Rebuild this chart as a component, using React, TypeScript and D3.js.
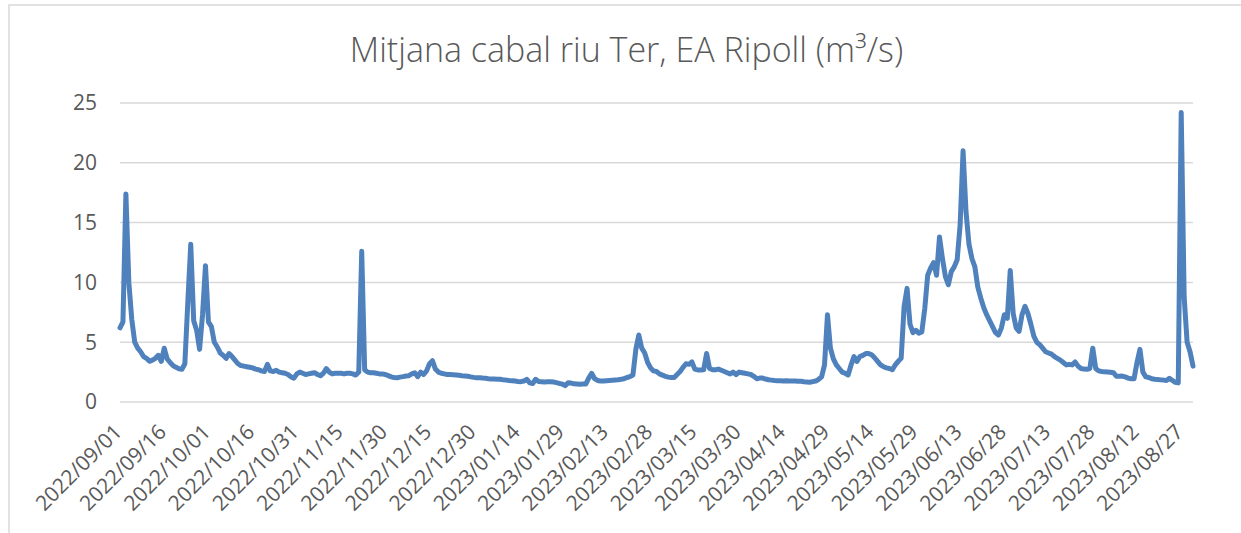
import React from "react";
import * as d3 from "d3";

// Daily mean flow (m³/s), one array per month, 2022/09/01 .. 2023/08/31
const sep2022 = [6.2, 6.7, 17.4, 10.0, 6.9, 5.0, 4.5, 4.2, 3.8, 3.65, 3.4, 3.5, 3.65, 3.9, 3.4, 4.5, 3.6, 3.3, 3.05, 2.9, 2.78, 2.73, 3.2, 8.3, 13.2, 6.8, 6.0, 4.4, 7.3, 11.4];
const oct2022 = [6.7, 6.3, 5.0, 4.6, 4.1, 3.9, 3.65, 4.05, 3.8, 3.5, 3.2, 3.05, 3.0, 2.95, 2.9, 2.85, 2.75, 2.7, 2.6, 2.55, 3.15, 2.6, 2.55, 2.65, 2.5, 2.45, 2.4, 2.3, 2.1, 2.0, 2.35];
const nov2022 = [2.5, 2.4, 2.3, 2.35, 2.4, 2.45, 2.3, 2.2, 2.4, 2.8, 2.5, 2.35, 2.4, 2.4, 2.4, 2.35, 2.4, 2.4, 2.35, 2.25, 2.5, 12.6, 2.7, 2.5, 2.45, 2.45, 2.4, 2.35, 2.35, 2.3];
const dec2022 = [2.2, 2.1, 2.05, 2.03, 2.08, 2.12, 2.17, 2.2, 2.35, 2.45, 2.12, 2.5, 2.3, 2.6, 3.2, 3.45, 2.75, 2.5, 2.4, 2.35, 2.3, 2.3, 2.28, 2.26, 2.23, 2.2, 2.18, 2.15, 2.1, 2.06, 2.03];
const jan2023 = [2.03, 2.0, 1.98, 1.95, 1.93, 1.92, 1.9, 1.9, 1.85, 1.83, 1.8, 1.78, 1.75, 1.72, 1.7, 1.75, 1.9, 1.6, 1.55, 1.9, 1.72, 1.7, 1.68, 1.7, 1.7, 1.68, 1.62, 1.56, 1.5, 1.37, 1.6];
const feb2023 = [1.58, 1.52, 1.5, 1.48, 1.5, 1.5, 2.0, 2.4, 1.95, 1.8, 1.75, 1.75, 1.78, 1.8, 1.82, 1.84, 1.86, 1.9, 1.95, 2.05, 2.12, 2.26, 4.4, 5.6, 4.5, 4.1, 3.3, 2.85];
const mar2023 = [2.6, 2.55, 2.35, 2.25, 2.15, 2.08, 2.05, 2.05, 2.3, 2.55, 2.9, 3.2, 3.15, 3.35, 2.75, 2.68, 2.68, 2.7, 4.05, 2.8, 2.7, 2.7, 2.75, 2.65, 2.55, 2.45, 2.34, 2.5, 2.28, 2.5, 2.45];
const apr2023 = [2.4, 2.35, 2.3, 2.15, 1.95, 2.0, 2.0, 1.92, 1.86, 1.83, 1.8, 1.78, 1.78, 1.76, 1.78, 1.76, 1.75, 1.76, 1.74, 1.74, 1.7, 1.68, 1.65, 1.7, 1.75, 1.9, 2.1, 3.1, 7.3, 4.5];
const may2023 = [3.6, 3.1, 2.8, 2.5, 2.4, 2.26, 3.1, 3.8, 3.4, 3.8, 3.9, 4.05, 4.05, 3.95, 3.7, 3.4, 3.1, 2.95, 2.85, 2.8, 2.7, 3.1, 3.4, 3.65, 8.0, 9.5, 6.5, 5.8, 6.0, 5.75, 5.85];
const jun2023 = [7.8, 10.6, 11.2, 11.65, 10.6, 13.8, 12.0, 10.5, 9.8, 10.9, 11.3, 11.9, 14.8, 21.0, 15.9, 13.2, 12.0, 11.3, 9.6, 8.7, 7.9, 7.3, 6.8, 6.3, 5.8, 5.6, 6.2, 7.3, 7.0, 11.0];
const jul2023 = [7.4, 6.2, 5.9, 7.3, 8.0, 7.4, 6.5, 5.5, 5.0, 4.8, 4.5, 4.2, 4.1, 4.0, 3.8, 3.65, 3.5, 3.3, 3.1, 3.15, 3.1, 3.35, 3.0, 2.8, 2.75, 2.73, 2.8, 4.5, 2.8, 2.6, 2.55];
const aug2023 = [2.52, 2.5, 2.48, 2.45, 2.15, 2.15, 2.17, 2.1, 2.0, 1.95, 1.95, 3.3, 4.4, 2.5, 2.1, 2.05, 1.95, 1.9, 1.88, 1.85, 1.83, 1.8, 1.98, 1.8, 1.65, 1.6, 24.2, 8.8, 5.0, 4.2, 3.0];

const startDate = "2022/09/01";
const xTickLabels = [
  "2022/09/01", "2022/09/16", "2022/10/01", "2022/10/16", "2022/10/31", "2022/11/15",
  "2022/11/30", "2022/12/15", "2022/12/30", "2023/01/14", "2023/01/29", "2023/02/13",
  "2023/02/28", "2023/03/15", "2023/03/30", "2023/04/14", "2023/04/29", "2023/05/14",
  "2023/05/29", "2023/06/13", "2023/06/28", "2023/07/13", "2023/07/28", "2023/08/12",
  "2023/08/27",
];
const yTicks = [0, 5, 10, 15, 20, 25];
const title = "Mitjana cabal riu Ter, EA Ripoll (m³/s)";

const parse = d3.utcParse("%Y/%m/%d");

export default function App() {
  const values = [
    ...sep2022, ...oct2022, ...nov2022, ...dec2022, ...jan2023, ...feb2023,
    ...mar2023, ...apr2023, ...may2023, ...jun2023, ...jul2023, ...aug2023,
  ];
  const start = parse(startDate) as Date;
  const data = values.map((v, i) => ({ date: d3.utcDay.offset(start, i), value: v }));

  const W = 1241;
  const H = 533;
  const left = 120;
  const right = 1193;
  const top = 103;
  const bottom = 402;

  const x = d3
    .scaleUtc()
    .domain([data[0].date, data[data.length - 1].date])
    .range([left, right]);
  const y = d3.scaleLinear().domain([0, 25]).range([bottom, top]);

  const line = d3
    .line<{ date: Date; value: number }>()
    .x((d) => x(d.date))
    .y((d) => y(d.value));

  const textColor = "#595959";
  const font = "'Open Sans', 'Liberation Sans', sans-serif";

  return (
    <svg
      width={W}
      height={H}
      style={{ position: "absolute", left: 0, top: 0, background: "#fff" }}
    >
      <rect x={9} y={5} width={W + 20} height={H + 20} fill="#fff" stroke="#d9d9d9" strokeWidth={1.5} />
      <text
        x={626.5}
        y={62}
        textAnchor="middle"
        fill={textColor}
        fontFamily={font}
        fontWeight={300}
        fontSize={34}
      >
        {title}
      </text>
      {yTicks.map((t) => (
        <g key={t}>
          <line x1={left} x2={right} y1={y(t)} y2={y(t)} stroke="#d9d9d9" strokeWidth={1.5} />
          <text
            x={97}
            y={y(t)}
            dy="0.35em"
            textAnchor="end"
            fill={textColor}
            fontFamily={font}
            fontSize={21}
          >
            {t}
          </text>
        </g>
      ))}
      {xTickLabels.map((lab) => {
        const px = x(parse(lab) as Date);
        return (
          <text
            key={lab}
            transform={`translate(${px - 2},${428}) rotate(-45)`}
            textAnchor="end"
            dy="0.35em"
            fill={textColor}
            fontFamily={font}
            fontSize={21}
          >
            {lab}
          </text>
        );
      })}
      <path
        d={line(data) || ""}
        fill="none"
        stroke="#4f81bd"
        strokeWidth={5}
        strokeLinejoin="round"
        strokeLinecap="round"
      />
    </svg>
  );
}
